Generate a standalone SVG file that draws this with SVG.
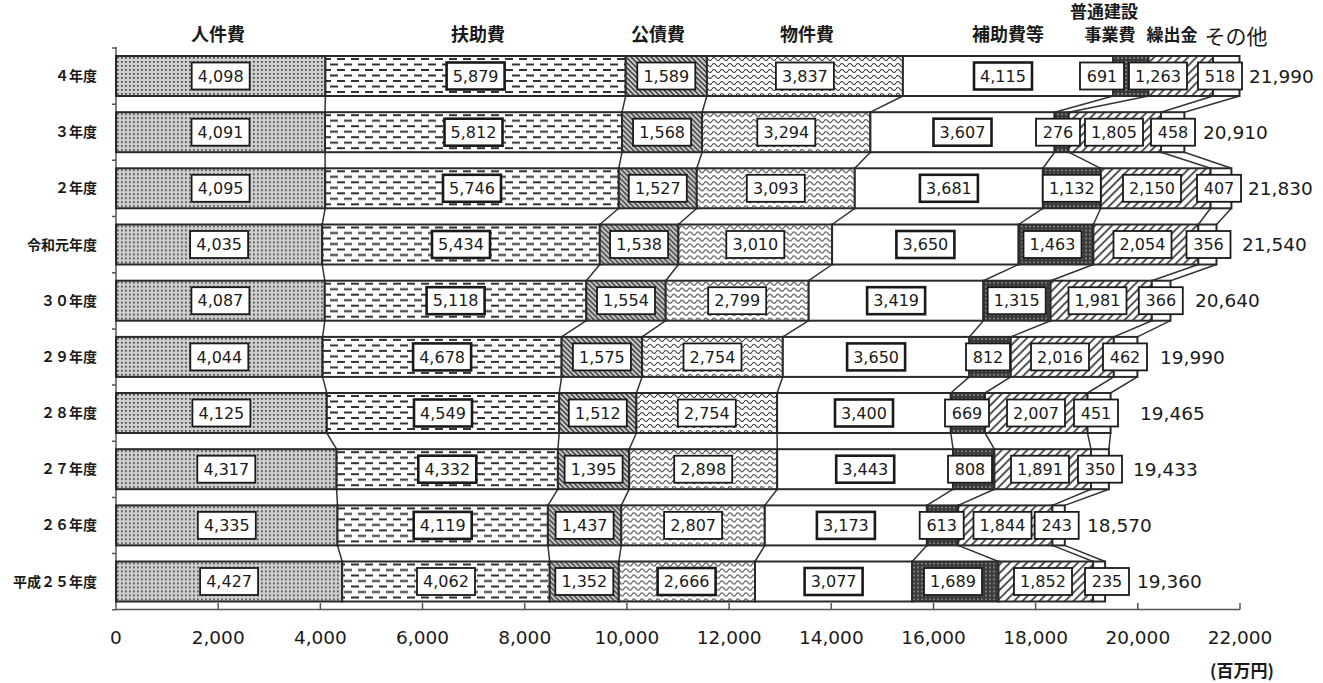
<svg xmlns="http://www.w3.org/2000/svg" width="1323" height="683" viewBox="0 0 1323 683">
<style>
.seg{stroke:#2a2a2a;stroke-width:2}
.s1{fill:url(#p1)}.s2{fill:url(#p2)}.s3{fill:url(#p3)}.s4{fill:url(#p4)}.s5{fill:#fff}.s6{fill:url(#p6)}.s7{fill:url(#p7)}.s8{fill:#fff}
.lb{fill:#fff;stroke:#1a1a1a;stroke-width:1.8}
.th{stroke-width:2.6}
.v{font-family:"DejaVu Sans",sans-serif;font-size:16px;fill:#1a1a1a;text-anchor:middle}
.tot{font-family:"DejaVu Sans",sans-serif;font-size:18.5px;fill:#1a1a1a}
.ax{font-family:"DejaVu Sans",sans-serif;font-size:18.5px;fill:#1a1a1a;text-anchor:middle}
.hd{font-family:"Noto Sans CJK JP",sans-serif;font-weight:bold;font-size:18px;fill:#1a1a1a;text-anchor:middle}
.rl{font-family:"Noto Sans CJK JP",sans-serif;font-weight:bold;font-size:14px;fill:#1a1a1a;text-anchor:end}
.cn{fill:none;stroke:#333;stroke-width:1.5}
.axl{fill:none;stroke:#555;stroke-width:1.5}
</style>
<defs>
<pattern id="p1" width="4" height="4" patternUnits="userSpaceOnUse"><rect width="4" height="4" fill="#cfcfcf"/><rect x="1" y="1" width="1.7" height="1.7" fill="#444"/></pattern>
<pattern id="p2" width="14" height="11" patternUnits="userSpaceOnUse"><rect width="14" height="11" fill="#fff"/><rect x="1" y="2" width="8" height="2" fill="#333"/><rect x="8" y="7.5" width="6" height="2" fill="#333"/><rect x="0" y="7.5" width="2" height="2" fill="#333"/></pattern>
<pattern id="p3" width="5" height="5" patternUnits="userSpaceOnUse"><rect width="5" height="5" fill="#c8c8c8"/><path d="M-1,-1L6,6M-1,4L1,6M4,-1L6,1" stroke="#333" stroke-width="1.3"/></pattern>
<pattern id="p4" width="8" height="6" patternUnits="userSpaceOnUse"><rect width="8" height="6" fill="#fff"/><path d="M0,3Q2,0 4,3T8,3" fill="none" stroke="#333" stroke-width="1.2"/></pattern>
<pattern id="p6" width="4" height="4" patternUnits="userSpaceOnUse"><rect width="4" height="4" fill="#3a3a3a"/><circle cx="2" cy="2" r="0.9" fill="#999"/></pattern>
<pattern id="p7" width="6" height="6" patternUnits="userSpaceOnUse" patternTransform="rotate(45)"><rect width="6" height="6" fill="#fff"/><rect width="2" height="6" fill="#555"/></pattern>
</defs>
<rect width="1323" height="683" fill="#fff"/>

<g id="headers">
<text class="hd" x="218" y="41">人件費</text>
<text class="hd" x="478" y="41">扶助費</text>
<text class="hd" x="658" y="41">公債費</text>
<text class="hd" x="807" y="41">物件費</text>
<text class="hd" x="1008" y="41">補助費等</text>
<text class="hd" x="1104" y="18" style="font-size:17px">普通建設</text>
<text class="hd" x="1110" y="41" style="font-size:17px">事業費</text>
<text class="hd" x="1172" y="41" style="font-size:17px">繰出金</text>
<text class="hd" x="1236" y="44" style="font-size:21px;font-weight:normal">その他</text>
</g>

<g id="axes">
<path class="axl" d="M116,47V609.5H1240"/>
<path class="axl" d="M112,48H116M112,104.2H116M112,160.3H116M112,216.5H116M112,272.7H116M112,328.9H116M112,385H116M112,441.2H116M112,497.4H116M112,553.5H116M112,609.7H116"/>
<path class="axl" d="M218.2,603V609.5M320.4,603V609.5M422.5,603V609.5M524.7,603V609.5M626.9,603V609.5M729.1,603V609.5M831.3,603V609.5M933.5,603V609.5M1035.6,603V609.5M1137.8,603V609.5M1240,603V609.5"/>
<text class="ax" x="116" y="644">0</text>
<text class="ax" x="218.2" y="644">2,000</text>
<text class="ax" x="320.4" y="644">4,000</text>
<text class="ax" x="422.5" y="644">6,000</text>
<text class="ax" x="524.7" y="644">8,000</text>
<text class="ax" x="626.9" y="644">10,000</text>
<text class="ax" x="729.1" y="644">12,000</text>
<text class="ax" x="831.3" y="644">14,000</text>
<text class="ax" x="933.5" y="644">16,000</text>
<text class="ax" x="1035.6" y="644">18,000</text>
<text class="ax" x="1137.8" y="644">20,000</text>
<text class="ax" x="1240" y="644">22,000</text>
<text class="hd" x="1242" y="677" style="font-size:17px">(百万円)</text>
</g>

<g id="connectors">
<path class="cn" d="M325.4,96L325,112.2M325,152.2L325.2,168.3M325.2,208.3L322.2,224.5M322.2,264.5L324.8,280.7M324.8,320.7L322.6,336.9M322.6,376.9L326.8,393M326.8,433L336.6,449.2M336.6,489.2L337.5,505.4M337.5,545.4L342.2,561.5"/>
<path class="cn" d="M625.7,96L622,112.2M622,152.2L618.8,168.3M618.8,208.3L599.8,224.5M599.8,264.5L586.3,280.7M586.3,320.7L561.6,336.9M561.6,376.9L559.2,393M559.2,433L557.9,449.2M557.9,489.2L547.9,505.4M547.9,545.4L549.7,561.5"/>
<path class="cn" d="M706.9,96L702.1,112.2M702.1,152.2L696.8,168.3M696.8,208.3L678.4,224.5M678.4,264.5L665.7,280.7M665.7,320.7L642.1,336.9M642.1,376.9L636.4,393M636.4,433L629.2,449.2M629.2,489.2L621.3,505.4M621.3,545.4L618.8,561.5"/>
<path class="cn" d="M902.9,96L870.4,112.2M870.4,152.2L854.8,168.3M854.8,208.3L832.1,224.5M832.1,264.5L808.7,280.7M808.7,320.7L782.8,336.9M782.8,376.9L777.1,393M777.1,433L777.2,449.2M777.2,489.2L764.8,505.4M764.8,545.4L755,561.5"/>
<path class="cn" d="M1113.2,96L1054.6,112.2M1054.6,152.2L1042.9,168.3M1042.9,208.3L1018.6,224.5M1018.6,264.5L983.4,280.7M983.4,320.7L969.3,336.9M969.3,376.9L950.8,393M950.8,433L953.1,449.2M953.1,489.2L926.9,505.4M926.9,545.4L912.2,561.5"/>
<path class="cn" d="M1148.5,96L1068.7,112.2M1068.7,152.2L1100.7,168.3M1100.7,208.3L1093.4,224.5M1093.4,264.5L1050.6,280.7M1050.6,320.7L1010.8,336.9M1010.8,376.9L985,393M985,433L994.4,449.2M994.4,489.2L958.2,505.4M958.2,545.4L998.5,561.5"/>
<path class="cn" d="M1213,96L1161,112.2M1161,152.2L1210.6,168.3M1210.6,208.3L1198.3,224.5M1198.3,264.5L1151.8,280.7M1151.8,320.7L1113.8,336.9M1113.8,376.9L1087.5,393M1087.5,433L1091,449.2M1091,489.2L1052.4,505.4M1052.4,545.4L1093.1,561.5"/>
<path class="cn" d="M1239.5,96L1184.4,112.2M1184.4,152.2L1231.4,168.3M1231.4,208.3L1216.5,224.5M1216.5,264.5L1170.5,280.7M1170.5,320.7L1137.4,336.9M1137.4,376.9L1110.6,393M1110.6,433L1108.9,449.2M1108.9,489.2L1064.8,505.4M1064.8,545.4L1105.1,561.5"/>
</g>

<g id="row-r4" transform="translate(0,56)">
<text class="rl" x="97" y="25">４年度</text>
<rect class="seg s1" x="116" y="0" width="209.4" height="40"/>
<rect class="seg s2" x="325.4" y="0" width="300.3" height="40"/>
<rect class="seg s3" x="625.7" y="0" width="81.2" height="40"/>
<rect class="seg s4" x="706.9" y="0" width="196" height="40"/>
<rect class="seg s5" x="902.9" y="0" width="210.3" height="40"/>
<rect class="seg s6" x="1113.2" y="0" width="35.3" height="40"/>
<rect class="seg s7" x="1148.5" y="0" width="64.5" height="40"/>
<rect class="seg s8" x="1213" y="0" width="26.5" height="40"/>
<rect class="lb" x="191.7" y="6.5" width="58" height="27"/><text class="v" x="220.7" y="25.8">4,098</text>
<rect class="lb th" x="446.6" y="6.5" width="58" height="27"/><text class="v" x="475.6" y="25.8">5,879</text>
<rect class="lb" x="637.3" y="6.5" width="58" height="27"/><text class="v" x="666.3" y="25.8">1,589</text>
<rect class="lb" x="775.9" y="6.5" width="58" height="27"/><text class="v" x="804.9" y="25.8">3,837</text>
<rect class="lb th" x="974" y="6.5" width="58" height="27"/><text class="v" x="1003" y="25.8">4,115</text>
<rect class="lb" x="1080" y="6.5" width="44" height="27"/><text class="v" x="1102" y="25.8">691</text>
<rect class="lb" x="1129" y="6.5" width="58" height="27"/><text class="v" x="1158" y="25.8">1,263</text>
<rect class="lb" x="1198" y="6.5" width="44" height="27"/><text class="v" x="1220" y="25.8">518</text>
<text class="tot" x="1249" y="26.7">21,990</text>
</g>

<g id="row-r3" transform="translate(0,112.2)">
<text class="rl" x="97" y="25">３年度</text>
<rect class="seg s1" x="116" y="0" width="209" height="40"/>
<rect class="seg s2" x="325" y="0" width="297" height="40"/>
<rect class="seg s3" x="622" y="0" width="80.1" height="40"/>
<rect class="seg s4" x="702.1" y="0" width="168.3" height="40"/>
<rect class="seg s5" x="870.4" y="0" width="184.2" height="40"/>
<rect class="seg s6" x="1054.6" y="0" width="14.1" height="40"/>
<rect class="seg s7" x="1068.7" y="0" width="92.3" height="40"/>
<rect class="seg s8" x="1161" y="0" width="23.4" height="40"/>
<rect class="lb" x="191.5" y="6.5" width="58" height="27"/><text class="v" x="220.5" y="25.8">4,091</text>
<rect class="lb th" x="444.5" y="6.5" width="58" height="27"/><text class="v" x="473.5" y="25.8">5,812</text>
<rect class="lb" x="633.1" y="6.5" width="58" height="27"/><text class="v" x="662.1" y="25.8">1,568</text>
<rect class="lb" x="757.3" y="6.5" width="58" height="27"/><text class="v" x="786.3" y="25.8">3,294</text>
<rect class="lb th" x="933.5" y="6.5" width="58" height="27"/><text class="v" x="962.5" y="25.8">3,607</text>
<rect class="lb" x="1036" y="6.5" width="44" height="27"/><text class="v" x="1058" y="25.8">276</text>
<rect class="lb" x="1085" y="6.5" width="58" height="27"/><text class="v" x="1114" y="25.8">1,805</text>
<rect class="lb" x="1151" y="6.5" width="44" height="27"/><text class="v" x="1173" y="25.8">458</text>
<text class="tot" x="1203" y="26.7">20,910</text>
</g>

<g id="row-r2" transform="translate(0,168.3)">
<text class="rl" x="97" y="25">２年度</text>
<rect class="seg s1" x="116" y="0" width="209.2" height="40"/>
<rect class="seg s2" x="325.2" y="0" width="293.6" height="40"/>
<rect class="seg s3" x="618.8" y="0" width="78" height="40"/>
<rect class="seg s4" x="696.8" y="0" width="158" height="40"/>
<rect class="seg s5" x="854.8" y="0" width="188.1" height="40"/>
<rect class="seg s6" x="1042.9" y="0" width="57.8" height="40"/>
<rect class="seg s7" x="1100.7" y="0" width="109.9" height="40"/>
<rect class="seg s8" x="1210.6" y="0" width="20.8" height="40"/>
<rect class="lb" x="191.6" y="6.5" width="58" height="27"/><text class="v" x="220.6" y="25.8">4,095</text>
<rect class="lb th" x="443" y="6.5" width="58" height="27"/><text class="v" x="472" y="25.8">5,746</text>
<rect class="lb" x="628.8" y="6.5" width="58" height="27"/><text class="v" x="657.8" y="25.8">1,527</text>
<rect class="lb" x="746.8" y="6.5" width="58" height="27"/><text class="v" x="775.8" y="25.8">3,093</text>
<rect class="lb th" x="919.9" y="6.5" width="58" height="27"/><text class="v" x="948.9" y="25.8">3,681</text>
<rect class="lb" x="1042.8" y="6.5" width="58" height="27"/><text class="v" x="1071.8" y="25.8">1,132</text>
<rect class="lb" x="1123" y="6.5" width="58" height="27"/><text class="v" x="1152" y="25.8">2,150</text>
<rect class="lb" x="1197" y="6.5" width="44" height="27"/><text class="v" x="1219" y="25.8">407</text>
<text class="tot" x="1248" y="26.7">21,830</text>
</g>

<g id="row-r1" transform="translate(0,224.5)">
<text class="rl" x="97" y="25">令和元年度</text>
<rect class="seg s1" x="116" y="0" width="206.2" height="40"/>
<rect class="seg s2" x="322.2" y="0" width="277.6" height="40"/>
<rect class="seg s3" x="599.8" y="0" width="78.6" height="40"/>
<rect class="seg s4" x="678.4" y="0" width="153.7" height="40"/>
<rect class="seg s5" x="832.1" y="0" width="186.5" height="40"/>
<rect class="seg s6" x="1018.6" y="0" width="74.8" height="40"/>
<rect class="seg s7" x="1093.4" y="0" width="104.9" height="40"/>
<rect class="seg s8" x="1198.3" y="0" width="18.2" height="40"/>
<rect class="lb" x="190.1" y="6.5" width="58" height="27"/><text class="v" x="219.1" y="25.8">4,035</text>
<rect class="lb th" x="432" y="6.5" width="58" height="27"/><text class="v" x="461" y="25.8">5,434</text>
<rect class="lb" x="610.1" y="6.5" width="58" height="27"/><text class="v" x="639.1" y="25.8">1,538</text>
<rect class="lb" x="726.3" y="6.5" width="58" height="27"/><text class="v" x="755.3" y="25.8">3,010</text>
<rect class="lb th" x="896.4" y="6.5" width="58" height="27"/><text class="v" x="925.4" y="25.8">3,650</text>
<rect class="lb" x="1023.5" y="6.5" width="58" height="27"/><text class="v" x="1052.5" y="25.8">1,463</text>
<rect class="lb" x="1113.5" y="6.5" width="58" height="27"/><text class="v" x="1142.5" y="25.8">2,054</text>
<rect class="lb" x="1186.5" y="6.5" width="44" height="27"/><text class="v" x="1208.5" y="25.8">356</text>
<text class="tot" x="1242" y="26.7">21,540</text>
</g>

<g id="row-h30" transform="translate(0,280.7)">
<text class="rl" x="97" y="25">３０年度</text>
<rect class="seg s1" x="116" y="0" width="208.8" height="40"/>
<rect class="seg s2" x="324.8" y="0" width="261.5" height="40"/>
<rect class="seg s3" x="586.3" y="0" width="79.4" height="40"/>
<rect class="seg s4" x="665.7" y="0" width="143" height="40"/>
<rect class="seg s5" x="808.7" y="0" width="174.7" height="40"/>
<rect class="seg s6" x="983.4" y="0" width="67.2" height="40"/>
<rect class="seg s7" x="1050.6" y="0" width="101.2" height="40"/>
<rect class="seg s8" x="1151.8" y="0" width="18.7" height="40"/>
<rect class="lb" x="191.4" y="6.5" width="58" height="27"/><text class="v" x="220.4" y="25.8">4,087</text>
<rect class="lb th" x="426.6" y="6.5" width="58" height="27"/><text class="v" x="455.6" y="25.8">5,118</text>
<rect class="lb" x="597" y="6.5" width="58" height="27"/><text class="v" x="626" y="25.8">1,554</text>
<rect class="lb" x="708.2" y="6.5" width="58" height="27"/><text class="v" x="737.2" y="25.8">2,799</text>
<rect class="lb th" x="867.1" y="6.5" width="58" height="27"/><text class="v" x="896.1" y="25.8">3,419</text>
<rect class="lb" x="987.7" y="6.5" width="58" height="27"/><text class="v" x="1016.7" y="25.8">1,315</text>
<rect class="lb" x="1068.5" y="6.5" width="58" height="27"/><text class="v" x="1097.5" y="25.8">1,981</text>
<rect class="lb" x="1138.8" y="6.5" width="44" height="27"/><text class="v" x="1160.8" y="25.8">366</text>
<text class="tot" x="1195" y="26.7">20,640</text>
</g>

<g id="row-h29" transform="translate(0,336.9)">
<text class="rl" x="97" y="25">２９年度</text>
<rect class="seg s1" x="116" y="0" width="206.6" height="40"/>
<rect class="seg s2" x="322.6" y="0" width="239" height="40"/>
<rect class="seg s3" x="561.6" y="0" width="80.5" height="40"/>
<rect class="seg s4" x="642.1" y="0" width="140.7" height="40"/>
<rect class="seg s5" x="782.8" y="0" width="186.5" height="40"/>
<rect class="seg s6" x="969.3" y="0" width="41.5" height="40"/>
<rect class="seg s7" x="1010.8" y="0" width="103" height="40"/>
<rect class="seg s8" x="1113.8" y="0" width="23.6" height="40"/>
<rect class="lb" x="190.3" y="6.5" width="58" height="27"/><text class="v" x="219.3" y="25.8">4,044</text>
<rect class="lb th" x="413.1" y="6.5" width="58" height="27"/><text class="v" x="442.1" y="25.8">4,678</text>
<rect class="lb" x="572.9" y="6.5" width="58" height="27"/><text class="v" x="601.9" y="25.8">1,575</text>
<rect class="lb" x="683.5" y="6.5" width="58" height="27"/><text class="v" x="712.5" y="25.8">2,754</text>
<rect class="lb th" x="847.1" y="6.5" width="58" height="27"/><text class="v" x="876.1" y="25.8">3,650</text>
<rect class="lb" x="966" y="6.5" width="44" height="27"/><text class="v" x="988" y="25.8">812</text>
<rect class="lb" x="1031" y="6.5" width="58" height="27"/><text class="v" x="1060" y="25.8">2,016</text>
<rect class="lb" x="1103" y="6.5" width="44" height="27"/><text class="v" x="1125" y="25.8">462</text>
<text class="tot" x="1160" y="26.7">19,990</text>
</g>

<g id="row-h28" transform="translate(0,393)">
<text class="rl" x="97" y="25">２８年度</text>
<rect class="seg s1" x="116" y="0" width="210.8" height="40"/>
<rect class="seg s2" x="326.8" y="0" width="232.4" height="40"/>
<rect class="seg s3" x="559.2" y="0" width="77.2" height="40"/>
<rect class="seg s4" x="636.4" y="0" width="140.7" height="40"/>
<rect class="seg s5" x="777.1" y="0" width="173.7" height="40"/>
<rect class="seg s6" x="950.8" y="0" width="34.2" height="40"/>
<rect class="seg s7" x="985" y="0" width="102.5" height="40"/>
<rect class="seg s8" x="1087.5" y="0" width="23.1" height="40"/>
<rect class="lb" x="192.4" y="6.5" width="58" height="27"/><text class="v" x="221.4" y="25.8">4,125</text>
<rect class="lb th" x="414" y="6.5" width="58" height="27"/><text class="v" x="443" y="25.8">4,549</text>
<rect class="lb" x="568.8" y="6.5" width="58" height="27"/><text class="v" x="597.8" y="25.8">1,512</text>
<rect class="lb" x="677.8" y="6.5" width="58" height="27"/><text class="v" x="706.8" y="25.8">2,754</text>
<rect class="lb th" x="835" y="6.5" width="58" height="27"/><text class="v" x="864" y="25.8">3,400</text>
<rect class="lb" x="945" y="6.5" width="44" height="27"/><text class="v" x="967" y="25.8">669</text>
<rect class="lb" x="1007" y="6.5" width="58" height="27"/><text class="v" x="1036" y="25.8">2,007</text>
<rect class="lb" x="1074" y="6.5" width="44" height="27"/><text class="v" x="1096" y="25.8">451</text>
<text class="tot" x="1140" y="26.7">19,465</text>
</g>

<g id="row-h27" transform="translate(0,449.2)">
<text class="rl" x="97" y="25">２７年度</text>
<rect class="seg s1" x="116" y="0" width="220.6" height="40"/>
<rect class="seg s2" x="336.6" y="0" width="221.3" height="40"/>
<rect class="seg s3" x="557.9" y="0" width="71.3" height="40"/>
<rect class="seg s4" x="629.2" y="0" width="148" height="40"/>
<rect class="seg s5" x="777.2" y="0" width="175.9" height="40"/>
<rect class="seg s6" x="953.1" y="0" width="41.3" height="40"/>
<rect class="seg s7" x="994.4" y="0" width="96.6" height="40"/>
<rect class="seg s8" x="1091" y="0" width="17.9" height="40"/>
<rect class="lb" x="197.3" y="6.5" width="58" height="27"/><text class="v" x="226.3" y="25.8">4,317</text>
<rect class="lb th" x="418.3" y="6.5" width="58" height="27"/><text class="v" x="447.3" y="25.8">4,332</text>
<rect class="lb" x="564.6" y="6.5" width="58" height="27"/><text class="v" x="593.6" y="25.8">1,395</text>
<rect class="lb" x="674.2" y="6.5" width="58" height="27"/><text class="v" x="703.2" y="25.8">2,898</text>
<rect class="lb th" x="836.2" y="6.5" width="58" height="27"/><text class="v" x="865.2" y="25.8">3,443</text>
<rect class="lb" x="948" y="6.5" width="44" height="27"/><text class="v" x="970" y="25.8">808</text>
<rect class="lb" x="1011" y="6.5" width="58" height="27"/><text class="v" x="1040" y="25.8">1,891</text>
<rect class="lb" x="1078" y="6.5" width="44" height="27"/><text class="v" x="1100" y="25.8">350</text>
<text class="tot" x="1133" y="26.7">19,433</text>
</g>

<g id="row-h26" transform="translate(0,505.4)">
<text class="rl" x="97" y="25">２６年度</text>
<rect class="seg s1" x="116" y="0" width="221.5" height="40"/>
<rect class="seg s2" x="337.5" y="0" width="210.4" height="40"/>
<rect class="seg s3" x="547.9" y="0" width="73.4" height="40"/>
<rect class="seg s4" x="621.3" y="0" width="143.5" height="40"/>
<rect class="seg s5" x="764.8" y="0" width="162.1" height="40"/>
<rect class="seg s6" x="926.9" y="0" width="31.3" height="40"/>
<rect class="seg s7" x="958.2" y="0" width="94.2" height="40"/>
<rect class="seg s8" x="1052.4" y="0" width="12.4" height="40"/>
<rect class="lb" x="197.8" y="6.5" width="58" height="27"/><text class="v" x="226.8" y="25.8">4,335</text>
<rect class="lb th" x="413.7" y="6.5" width="58" height="27"/><text class="v" x="442.7" y="25.8">4,119</text>
<rect class="lb" x="555.6" y="6.5" width="58" height="27"/><text class="v" x="584.6" y="25.8">1,437</text>
<rect class="lb" x="664.1" y="6.5" width="58" height="27"/><text class="v" x="693.1" y="25.8">2,807</text>
<rect class="lb th" x="816.9" y="6.5" width="58" height="27"/><text class="v" x="845.9" y="25.8">3,173</text>
<rect class="lb" x="919.7" y="6.5" width="44" height="27"/><text class="v" x="941.7" y="25.8">613</text>
<rect class="lb" x="973.5" y="6.5" width="58" height="27"/><text class="v" x="1002.5" y="25.8">1,844</text>
<rect class="lb" x="1034.7" y="6.5" width="44" height="27"/><text class="v" x="1056.7" y="25.8">243</text>
<text class="tot" x="1087" y="26.7">18,570</text>
</g>

<g id="row-h25" transform="translate(0,561.5)">
<text class="rl" x="97" y="25">平成２５年度</text>
<rect class="seg s1" x="116" y="0" width="226.2" height="40"/>
<rect class="seg s2" x="342.2" y="0" width="207.5" height="40"/>
<rect class="seg s3" x="549.7" y="0" width="69.1" height="40"/>
<rect class="seg s4" x="618.8" y="0" width="136.2" height="40"/>
<rect class="seg s5" x="755" y="0" width="157.2" height="40"/>
<rect class="seg s6" x="912.2" y="0" width="86.3" height="40"/>
<rect class="seg s7" x="998.5" y="0" width="94.6" height="40"/>
<rect class="seg s8" x="1093.1" y="0" width="12" height="40"/>
<rect class="lb" x="200.1" y="6.5" width="58" height="27"/><text class="v" x="229.1" y="25.8">4,427</text>
<rect class="lb" x="417" y="6.5" width="58" height="27"/><text class="v" x="446" y="25.8">4,062</text>
<rect class="lb" x="555.3" y="6.5" width="58" height="27"/><text class="v" x="584.3" y="25.8">1,352</text>
<rect class="lb th" x="657.6" y="6.5" width="58" height="27"/><text class="v" x="686.6" y="25.8">2,666</text>
<rect class="lb th" x="804.6" y="6.5" width="58" height="27"/><text class="v" x="833.6" y="25.8">3,077</text>
<rect class="lb" x="924" y="6.5" width="58" height="27"/><text class="v" x="953" y="25.8">1,689</text>
<rect class="lb" x="1014" y="6.5" width="58" height="27"/><text class="v" x="1043" y="25.8">1,852</text>
<rect class="lb" x="1085" y="6.5" width="44" height="27"/><text class="v" x="1107" y="25.8">235</text>
<text class="tot" x="1137" y="26.7">19,360</text>
</g>
</svg>
